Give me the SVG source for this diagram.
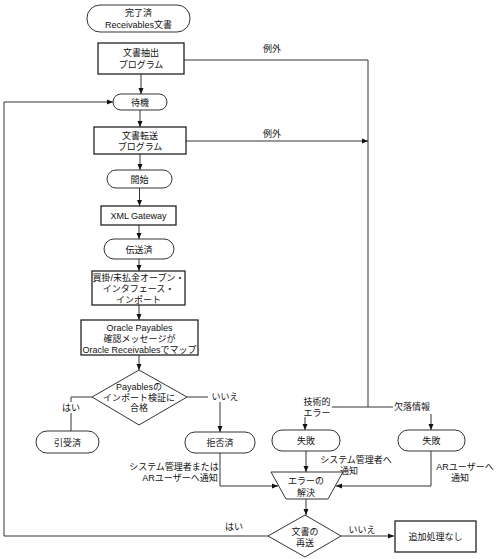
<svg xmlns="http://www.w3.org/2000/svg" width="502" height="559" viewBox="0 0 502 559">
<defs>
<marker id="ah" markerWidth="6" markerHeight="6" refX="6" refY="3" orient="auto" markerUnits="userSpaceOnUse">
<path d="M0,0.5 L6,3 L0,5.5 Z" fill="#111"/>
</marker>
<style>
text{font-family:"Liberation Sans","Noto Sans CJK JP",sans-serif;font-size:9px;fill:#111;text-anchor:middle}
.box{fill:#fff;stroke:#222;stroke-width:1.3}
.term{fill:#fff;stroke:#333;stroke-width:1}
.dec{fill:#fff;stroke:#333;stroke-width:1}
.ln{fill:none;stroke:#333;stroke-width:1}
.ar{fill:none;stroke:#333;stroke-width:1;marker-end:url(#ah)}
.bg{fill:#fff}
</style>
</defs>
<rect width="502" height="559" fill="#fff"/>

<g id="connectors">
<path class="ar" d="M141,74 V94"/>
<path class="ar" d="M140,110 V127"/>
<path class="ar" d="M140,154 V170"/>
<path class="ar" d="M139.5,188 V206"/>
<path class="ar" d="M139,225 V239"/>
<path class="ar" d="M139,259 V271"/>
<path class="ar" d="M139,305 V320"/>
<path class="ar" d="M139,355 V370"/>
<path class="ln" d="M92,397 H71 V431"/>
<path class="ar" d="M187,397 H220 V432"/>
<path class="ar" d="M220,453 V486 H278"/>
<path class="ln" d="M184,60 H368 V407"/>
<path class="ar" d="M186,141 H368"/>
<path class="ln" d="M332,407 H393"/>
<path class="ar" d="M305,417 V430"/>
<path class="ar" d="M431,414 V430"/>
<path class="ar" d="M306,451 V472"/>
<path class="ar" d="M431,451 V486 H336"/>
<path class="ar" d="M306,499 V515"/>
<path class="ar" d="M268,536 H4 V102 H113"/>
<path class="ar" d="M341,536 H394"/>
<rect class="bg" x="62" y="402" width="18" height="11"/>
<text x="71" y="410.5">はい</text>
<rect class="bg" x="208" y="391" width="34" height="11"/>
<text x="225" y="400">いいえ</text>
<text x="272" y="52">例外</text>
<text x="272" y="137">例外</text>
<text x="317" y="405">技術的</text>
<text x="317" y="415.5">エラー</text>
<text x="412" y="410">欠落情報</text>
<text x="174" y="470">システム管理者または</text>
<text x="180" y="481">ARユーザーへ通知</text>
<text x="356" y="463">システム管理者へ</text>
<text x="349" y="474">通知</text>
<text x="465" y="470">ARユーザーへ</text>
<text x="460" y="481">通知</text>
<text x="234" y="530">はい</text>
<text x="362" y="533">いいえ</text>
</g>

<g id="n-start">
<rect class="term" x="87" y="5" width="103" height="27" rx="13"/>
<text x="138.5" y="16">完了済</text>
<text x="138.5" y="28">Receivables文書</text>
</g>
<g id="n-extract">
<rect class="box" x="98" y="43" width="86" height="31"/>
<text x="141" y="56">文書抽出</text>
<text x="141" y="68">プログラム</text>
</g>
<g id="n-wait">
<rect class="term" x="113" y="94" width="54" height="16" rx="8"/>
<text x="140" y="105.5">待機</text>
</g>
<g id="n-transfer">
<rect class="box" x="94" y="127" width="92" height="27"/>
<text x="140" y="138.5">文書転送</text>
<text x="140" y="150">プログラム</text>
</g>
<g id="n-begin">
<rect class="term" x="107" y="170" width="65" height="18" rx="9"/>
<text x="139.5" y="182.5">開始</text>
</g>
<g id="n-xml">
<rect class="box" x="101" y="206" width="75" height="19"/>
<text x="138.5" y="219">XML Gateway</text>
</g>
<g id="n-sent">
<rect class="term" x="104" y="239" width="70" height="20" rx="10"/>
<text x="139" y="252.5">伝送済</text>
</g>
<g id="n-import">
<rect class="box" x="92" y="271" width="93" height="34"/>
<text x="138.5" y="281">買掛/未払金オープン・</text>
<text x="138.5" y="292">インタフェース・</text>
<text x="138.5" y="302.5">インポート</text>
</g>
<g id="n-map">
<rect class="box" x="81" y="320" width="117" height="35"/>
<text x="139.5" y="331">Oracle Payables</text>
<text x="139.5" y="342">確認メッセージが</text>
<text x="139.5" y="353">Oracle Receivablesでマップ</text>
</g>
<g id="n-check">
<polygon class="dec" points="139,370 187,397 139,425 92,397"/>
<text x="139" y="390">Payablesの</text>
<text x="139" y="400.5">インポート検証に</text>
<text x="139" y="411">合格</text>
</g>
<g id="n-accepted">
<rect class="term" x="36" y="431" width="63" height="22" rx="11"/>
<text x="67.5" y="445.5">引受済</text>
</g>
<g id="n-rejected">
<rect class="term" x="185" y="432" width="70" height="21" rx="10"/>
<text x="220" y="446">拒否済</text>
</g>
<g id="n-fail1">
<rect class="term" x="272" y="430" width="68" height="21" rx="10"/>
<text x="306" y="444">失敗</text>
</g>
<g id="n-fail2">
<rect class="term" x="398" y="430" width="67" height="21" rx="10"/>
<text x="431.5" y="444">失敗</text>
</g>
<g id="n-resolve">
<polygon class="dec" points="271,472 343,472 328,499 286,499"/>
<text x="306" y="484">エラーの</text>
<text x="306" y="495.5">解決</text>
</g>
<g id="n-resend">
<polygon class="dec" points="305,515 341,536 305,557 268,536"/>
<text x="305" y="534.5">文書の</text>
<text x="305" y="546">再送</text>
</g>
<g id="n-none">
<rect class="box" x="395" y="521" width="81" height="31"/>
<text x="435.5" y="540">追加処理なし</text>
</g>
</svg>
